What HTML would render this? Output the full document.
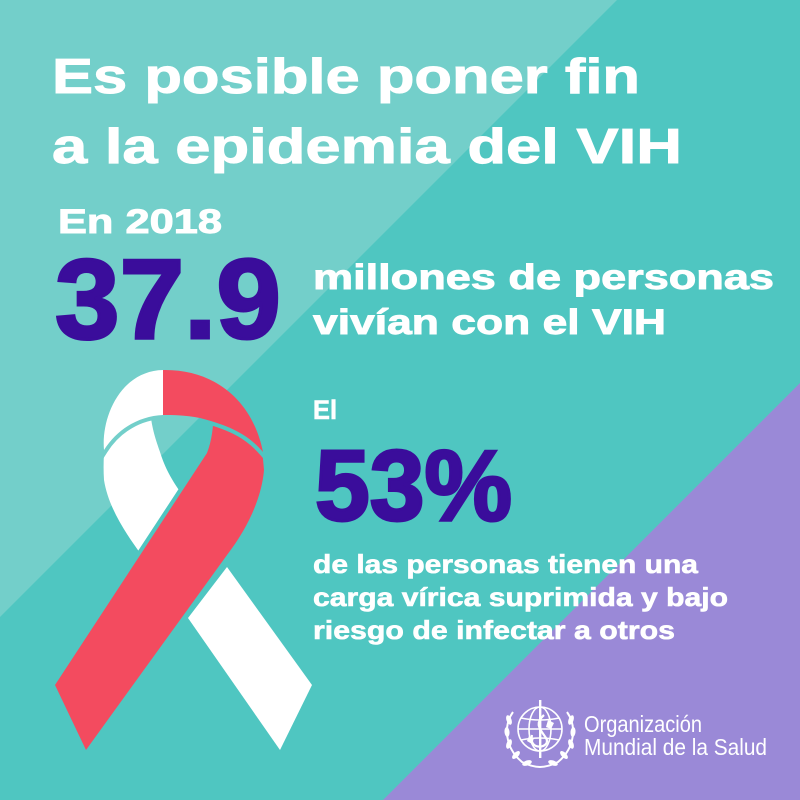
<!DOCTYPE html>
<html>
<head>
<meta charset="utf-8">
<style>
  html, body { margin:0; padding:0; width:800px; height:800px; overflow:hidden; background:#4fc6c1; }
  svg { display:block; }
  text { font-family: "Liberation Sans", Arial, sans-serif; font-weight: bold; }
</style>
</head>
<body>
<svg width="800" height="800" viewBox="0 0 800 800" xmlns="http://www.w3.org/2000/svg">
  <defs>
    <path id="arch" d="M104,450 C101,418 120,371 163,370 C212,369 252,398 263,452 C250,437 235,427 200,418 C185,415 172,415 163,415 C140,416 118,428 104,450 Z"/>
    <path id="redstrand" d="M214,412 L248,418 L262,448 L264,470 C262,495 250,525 227,555 L86,750 L55,685 L207,453 C212,440 213,428 214,412 Z"/>
    <mask id="mArch" maskUnits="userSpaceOnUse" x="0" y="0" width="800" height="800">
      <rect x="0" y="0" width="800" height="800" fill="#fff"/>
      <use href="#arch" fill="#000" stroke="#000" stroke-width="8"/>
    </mask>
    <mask id="mRed" maskUnits="userSpaceOnUse" x="0" y="0" width="800" height="800">
      <rect x="0" y="0" width="800" height="800" fill="#fff"/>
      <use href="#arch" fill="#000" stroke="#000" stroke-width="8"/>
      <use href="#redstrand" fill="#000" stroke="#000" stroke-width="8"/>
    </mask>
    <clipPath id="cLeft"><rect x="0" y="300" width="163" height="200"/></clipPath>
    <clipPath id="cRight"><rect x="163" y="300" width="200" height="200"/></clipPath>
  </defs>

  <!-- background -->
  <rect x="0" y="0" width="800" height="800" fill="#4fc6c1"/>
  <polygon points="0,0 617,0 0,617" fill="#73cfca"/>
  <polygon points="800,383 800,800 383,800" fill="#9a89d7"/>

  <!-- ribbon -->
  <path mask="url(#mRed)" fill="#ffffff" d="M105,440 L150,410 C152,430 156,440 160,452 C165,468 172,482 190,505 L150,570 L140,553 C122,528 108,505 104,480 C103,465 104,452 105,440 Z"/>
  <polygon mask="url(#mRed)" fill="#ffffff" points="227,567 312,685 280,750 188,618"/>
  <use href="#redstrand" fill="#f34b5f" mask="url(#mArch)"/>
  <use href="#arch" fill="#ffffff" clip-path="url(#cLeft)"/>
  <use href="#arch" fill="#f34b5f" clip-path="url(#cRight)"/>

  <!-- title -->
  <g fill="#ffffff" stroke="#ffffff" stroke-width="0.9">
    <text x="52" y="93" font-size="49" textLength="588" lengthAdjust="spacingAndGlyphs">Es posible poner fin</text>
    <text x="52" y="163" font-size="49" textLength="630" lengthAdjust="spacingAndGlyphs">a la epidemia del VIH</text>
    <text x="58" y="233" font-size="34" textLength="164" lengthAdjust="spacingAndGlyphs">En 2018</text>
    <text x="313" y="289" font-size="35" textLength="461" lengthAdjust="spacingAndGlyphs">millones de personas</text>
    <text x="313" y="334" font-size="35" textLength="353" lengthAdjust="spacingAndGlyphs">vivían con el VIH</text>
  </g>

  <text x="55" y="338" font-size="113" fill="#3a0d9b" stroke="#3a0d9b" stroke-width="3" textLength="226" lengthAdjust="spacingAndGlyphs">37.9</text>

  <g fill="#ffffff" stroke="#ffffff" stroke-width="0.6">
    <text x="313" y="419" font-size="27" textLength="24" lengthAdjust="spacingAndGlyphs">El</text>
    <text x="313" y="573" font-size="26" textLength="385" lengthAdjust="spacingAndGlyphs">de las personas tienen una</text>
    <text x="313" y="606" font-size="26" textLength="415" lengthAdjust="spacingAndGlyphs">carga vírica suprimida y bajo</text>
    <text x="313" y="639" font-size="26" textLength="362" lengthAdjust="spacingAndGlyphs">riesgo de infectar a otros</text>
  </g>
  <text x="315" y="520" font-size="100" fill="#3a0d9b" stroke="#3a0d9b" stroke-width="3" textLength="197" lengthAdjust="spacingAndGlyphs">53%</text>

  <!-- WHO emblem -->
  <g fill="none" stroke="#ffffff" stroke-width="1.6">
    <circle cx="540" cy="729" r="22"/>
    <ellipse cx="540" cy="729" rx="11" ry="22"/>
    <line x1="518" y1="729" x2="562" y2="729"/>
    <path d="M521,718 Q540,722 559,718"/>
    <path d="M521,740 Q540,736 559,740"/>
    <path d="M513,712 C503,726 505,748 522,762 C530,766 536,767 540,767" stroke-width="2"/>
    <path d="M567,712 C577,726 575,748 558,762 C550,766 544,767 540,767" stroke-width="2"/>
  </g>
  <g fill="#ffffff">
    <ellipse cx="509" cy="720" rx="2.5" ry="5" transform="rotate(-20 509 720)"/>
    <ellipse cx="507" cy="732" rx="2.5" ry="5" transform="rotate(-5 507 732)"/>
    <ellipse cx="509" cy="744" rx="2.5" ry="5" transform="rotate(20 509 744)"/>
    <ellipse cx="516" cy="755" rx="2.5" ry="5" transform="rotate(45 516 755)"/>
    <ellipse cx="527" cy="763" rx="2.5" ry="5" transform="rotate(70 527 763)"/>
    <ellipse cx="571" cy="720" rx="2.5" ry="5" transform="rotate(20 571 720)"/>
    <ellipse cx="573" cy="732" rx="2.5" ry="5" transform="rotate(5 573 732)"/>
    <ellipse cx="571" cy="744" rx="2.5" ry="5" transform="rotate(-20 571 744)"/>
    <ellipse cx="564" cy="755" rx="2.5" ry="5" transform="rotate(-45 564 755)"/>
    <ellipse cx="553" cy="763" rx="2.5" ry="5" transform="rotate(-70 553 763)"/>
    <rect x="539" y="700" width="2.4" height="58"/>
    <path d="M532,735 C528,752 552,748 546,738 C540,729 534,724 544,715" fill="none" stroke="#ffffff" stroke-width="2.2"/>
    <path d="M529,736 l5,2 l-2,6 l-5,-3 z"/>
    <path d="M548,720 l6,3 l-3,6 l-5,-2 z"/>
  </g>
  <text x="584" y="732" font-size="23" fill="#ffffff" style="font-family:'Liberation Sans Narrow','Liberation Sans',sans-serif;font-weight:normal" textLength="118" lengthAdjust="spacingAndGlyphs">Organización</text>
  <text x="584" y="755" font-size="23" fill="#ffffff" style="font-family:'Liberation Sans Narrow','Liberation Sans',sans-serif;font-weight:normal" textLength="183" lengthAdjust="spacingAndGlyphs">Mundial de la Salud</text>
</svg>
</body>
</html>
